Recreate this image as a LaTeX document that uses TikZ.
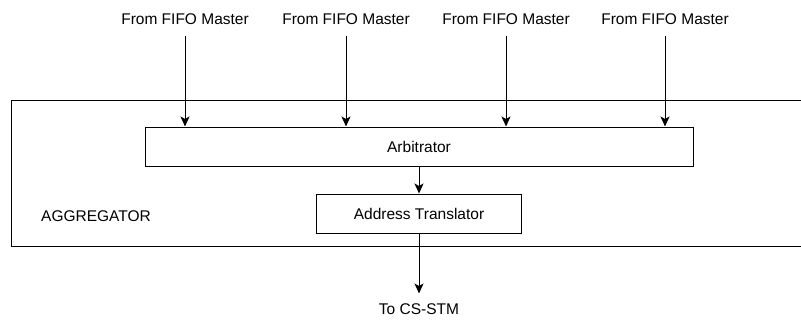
\documentclass[tikz,border=0pt]{standalone}
\usepackage{fontspec}
\setmainfont{Liberation Sans}
\usetikzlibrary{positioning}
\usetikzlibrary{arrows.meta}

\begin{document}
\begin{tikzpicture}[
        x=1pt, y=-1pt,
        node distance=27pt,
        txt/.style={font=\fontsize{15.5}{18}\selectfont, inner sep=0pt},
        box/.style={draw, line width=1pt, txt, minimum height=39pt},
        arrow/.style={-{Stealth[length=10pt, width=9pt, inset=2.5pt]}, line width=1pt}
    ]
        \clip (0,0) rectangle (801,322);
        \fill[white] (0,0) rectangle (801,322);

        \node[draw, line width=1pt, minimum width=830pt, minimum height=146pt,
              anchor=north west] (aggr) at (11,100) {};
        \node[txt] (aggrlbl) at (96,216) {AGGREGATOR};

        \node[box, minimum width=548pt] (arb) at (419,146.5) {Arbitrator};
        \node[box, minimum width=205pt, below=of arb] (trans) {Address Translator};
        \node[txt, below=70pt of trans] (csstm) {To CS-STM};

        \foreach \x [count=\i] in {185,346,506,665} {
            \node[txt] (fifo\i) at (\x,19) {From FIFO Master};
            \draw[arrow, shorten <=11pt] (fifo\i.south) -- (fifo\i.south |- arb.north);
        }

        \draw[arrow] (arb) -- (trans);
        \draw[arrow, shorten >=10pt] (trans) -- (csstm);
    \end{tikzpicture}
\end{document}
